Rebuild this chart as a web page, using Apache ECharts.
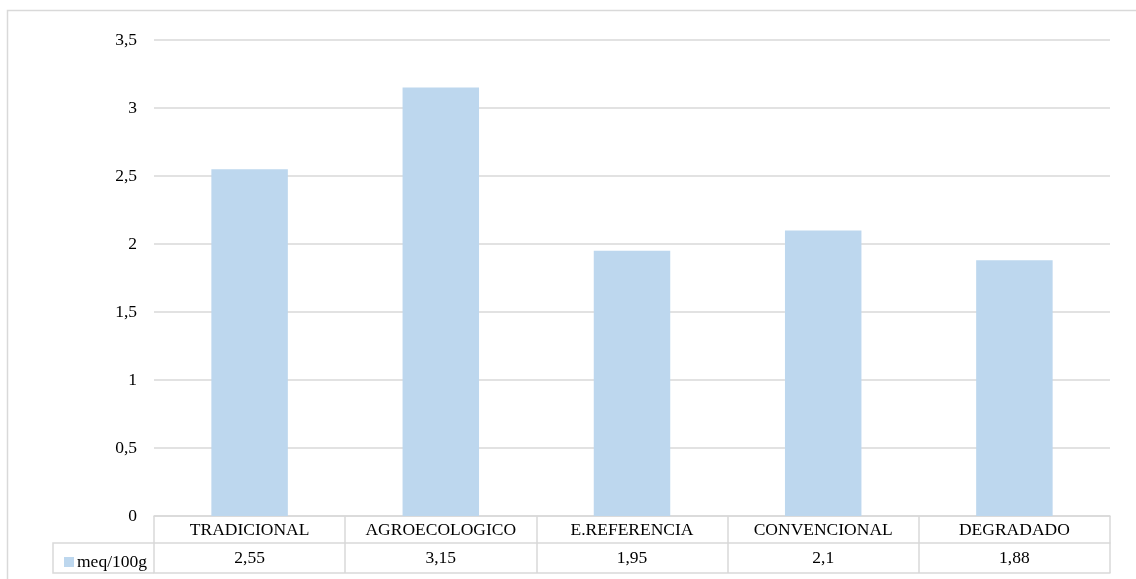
<!DOCTYPE html>
<html>
<head>
<meta charset="utf-8">
<script src="https://cdn.jsdelivr.net/npm/echarts@6/dist/echarts.min.js"></script>
<style>
  html, body { margin: 0; padding: 0; background: #fff; }
  #chart { width: 1136px; height: 579px; }
</style>
</head>
<body>
<div id="chart"></div>
<script>
// Soil sample categories and measured values (meq/100g)
const categories = ['TRADICIONAL', 'AGROECOLOGICO', 'E.REFERENCIA', 'CONVENCIONAL', 'DEGRADADO'];
const values = [2.55, 3.15, 1.95, 2.1, 1.88];
const seriesName = 'meq/100g';
const yTicks = { min: 0, max: 3.5, interval: 0.5 };

const FONT = '"Liberation Serif", "Times New Roman", serif';
const LINE = '#d9d9d9';
const BAR = '#bdd7ee';
const fmt = v => String(v).replace('.', ',');

const chart = echarts.init(document.getElementById('chart'));

const textStyle = { fontFamily: FONT, fontSize: 17.5, color: '#000' };

chart.setOption({
  animation: false,
  textStyle: { fontFamily: FONT },
  grid: { left: 154, right: 26, top: 40, bottom: 63, containLabel: false },
  legend: {
    data: [seriesName],
    left: 59, top: 548,
    icon: 'rect', itemWidth: 10, itemHeight: 10, itemGap: 4,
    textStyle: Object.assign({}, textStyle, { padding: [0, 0, 0, -2] }),
    selectedMode: false
  },
  xAxis: [
    {
      type: 'category', data: categories, position: 'bottom',
      axisLine: { show: true, lineStyle: { color: LINE, width: 1.5 } },
      axisTick: { show: true, interval: 0, length: 27, lineStyle: { color: LINE, width: 1.5 } },
      axisLabel: Object.assign({ margin: 5, interval: 0 }, textStyle),
      splitLine: { show: false }
    },
    {
      type: 'category', data: values.map(fmt), position: 'bottom', offset: 27,
      axisLine: { show: true, lineStyle: { color: LINE, width: 1.5 } },
      axisTick: { show: true, interval: 0, length: 30, lineStyle: { color: LINE, width: 1.5 } },
      axisLabel: Object.assign({ margin: 6, interval: 0 }, textStyle)
    },
    {
      type: 'category', data: categories, position: 'bottom', offset: 57,
      axisLine: { show: true, lineStyle: { color: LINE, width: 1.5 } },
      axisTick: { show: false },
      axisLabel: { show: false }
    }
  ],
  yAxis: {
    type: 'value', min: yTicks.min, max: yTicks.max, interval: yTicks.interval,
    axisLine: { show: false }, axisTick: { show: false },
    axisLabel: Object.assign({ margin: 17, formatter: fmt }, textStyle),
    splitLine: { lineStyle: { color: LINE, width: 1.5 } }
  },
  series: [{
    name: seriesName, type: 'bar', data: values, xAxisIndex: 0,
    barWidth: '40%', itemStyle: { color: BAR }
  }]
});

// Outer chart frame and the legend cell of the data table
const x0 = chart.convertToPixel({ xAxisIndex: 0 }, 0) - chart.getModel().getComponent('xAxis', 0).axis.getBandWidth() / 2;
const yBase = chart.convertToPixel({ yAxisIndex: 0 }, 0);
const cellLeft = 53;
chart.setOption({
  graphic: [
    { type: 'rect', shape: { x: 7.5, y: 10.5, width: 1150, height: 600 },
      style: { fill: null, stroke: LINE, lineWidth: 1.5 }, silent: true, z: -1 },
    { type: 'polyline', shape: { points: [[x0, yBase + 27], [cellLeft, yBase + 27], [cellLeft, yBase + 57], [x0, yBase + 57]] },
      style: { fill: null, stroke: LINE, lineWidth: 1.5 }, silent: true }
  ]
});
</script>
</body>
</html>
